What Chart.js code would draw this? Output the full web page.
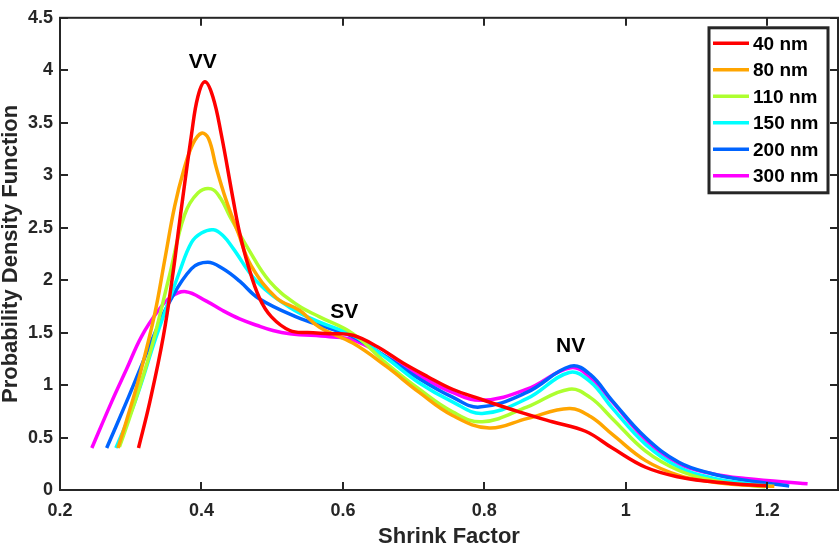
<!DOCTYPE html>
<html lang="en">
<head>
  <meta charset="UTF-8">
  <title>Shrink Factor PDF</title>
  <script src="https://cdn.jsdelivr.net/npm/chart.js@4.4.0/dist/chart.umd.min.js"></script>
  <style>
    html, body { margin: 0; padding: 0; background: #fff; }
    .chart-box { width: 840px; height: 548px; }
  </style>
</head>
<body>
  <div class="chart-box">
    <canvas id="pdfChart"></canvas>
  </div>
  <script>
    // particle sizes (legend)
    var sizeLabels = ['40 nm', '80 nm', '110 nm', '150 nm', '200 nm', '300 nm'];

    // shrink factor (x) and PDF (y), one pair per size
    var sf40  = [0.311, 0.327, 0.346, 0.360, 0.369, 0.386, 0.395, 0.405, 0.416, 0.428, 0.445, 0.454, 0.466, 0.482, 0.499, 0.525, 0.550, 0.581, 0.614, 0.650, 0.685, 0.720, 0.755, 0.793, 0.849, 0.896, 0.943, 0.981, 1.028, 1.075, 1.120, 1.160, 1.200];
    var pdf40 = [0.40, 0.84, 1.46, 2.08, 2.55, 3.39, 3.75, 3.89, 3.75, 3.39, 2.76, 2.45, 2.14, 1.83, 1.65, 1.52, 1.50, 1.49, 1.475, 1.36, 1.21, 1.08, 0.96, 0.87, 0.745, 0.65, 0.56, 0.40, 0.217, 0.124, 0.08, 0.055, 0.04];

    var sf80  = [0.282, 0.294, 0.313, 0.334, 0.348, 0.362, 0.375, 0.388, 0.400, 0.410, 0.421, 0.435, 0.452, 0.470, 0.506, 0.539, 0.567, 0.614, 0.661, 0.708, 0.755, 0.807, 0.860, 0.920, 0.950, 0.981, 1.028, 1.075, 1.122, 1.169, 1.210];
    var pdf80 = [0.40, 0.66, 1.10, 1.68, 2.19, 2.70, 3.05, 3.30, 3.40, 3.35, 3.07, 2.76, 2.45, 2.14, 1.83, 1.71, 1.55, 1.40, 1.18, 0.93, 0.71, 0.59, 0.68, 0.776, 0.70, 0.53, 0.28, 0.14, 0.077, 0.047, 0.035];

    var sf110  = [0.284, 0.299, 0.327, 0.355, 0.376, 0.395, 0.414, 0.427, 0.440, 0.466, 0.496, 0.534, 0.567, 0.614, 0.661, 0.708, 0.755, 0.797, 0.860, 0.920, 0.950, 0.981, 1.028, 1.075, 1.122, 1.169, 1.197];
    var pdf110 = [0.41, 0.70, 1.30, 2.05, 2.62, 2.83, 2.87, 2.78, 2.61, 2.30, 1.99, 1.77, 1.65, 1.49, 1.21, 0.96, 0.745, 0.65, 0.79, 0.96, 0.88, 0.68, 0.37, 0.186, 0.093, 0.047, 0.03];

    var sf150  = [0.279, 0.306, 0.336, 0.369, 0.386, 0.400, 0.417, 0.431, 0.445, 0.478, 0.525, 0.567, 0.614, 0.661, 0.708, 0.755, 0.797, 0.860, 0.920, 0.950, 0.981, 1.028, 1.075, 1.122, 1.169, 1.207];
    var pdf150 = [0.40, 0.84, 1.46, 2.08, 2.36, 2.45, 2.48, 2.42, 2.30, 1.99, 1.74, 1.60, 1.475, 1.26, 1.02, 0.84, 0.73, 0.87, 1.12, 1.03, 0.78, 0.435, 0.217, 0.115, 0.062, 0.037];

    var sf200  = [0.266, 0.294, 0.313, 0.332, 0.353, 0.386, 0.409, 0.430, 0.454, 0.480, 0.534, 0.581, 0.614, 0.661, 0.708, 0.755, 0.793, 0.860, 0.922, 0.950, 0.981, 1.028, 1.075, 1.122, 1.169, 1.231];
    var pdf200 = [0.40, 0.84, 1.15, 1.46, 1.77, 2.11, 2.17, 2.11, 1.99, 1.83, 1.65, 1.54, 1.46, 1.27, 1.06, 0.885, 0.79, 0.93, 1.18, 1.10, 0.85, 0.50, 0.264, 0.155, 0.093, 0.037];

    var sf300  = [0.245, 0.273, 0.294, 0.315, 0.339, 0.357, 0.378, 0.407, 0.430, 0.454, 0.478, 0.501, 0.525, 0.581, 0.614, 0.661, 0.708, 0.755, 0.797, 0.860, 0.922, 0.950, 0.981, 1.028, 1.075, 1.122, 1.169, 1.257];
    var pdf300 = [0.40, 0.84, 1.15, 1.46, 1.71, 1.84, 1.89, 1.80, 1.71, 1.63, 1.57, 1.52, 1.49, 1.46, 1.43, 1.27, 1.09, 0.93, 0.855, 0.96, 1.165, 1.07, 0.84, 0.48, 0.25, 0.155, 0.109, 0.059];

    // axis ticks
    var xTicks = [0.2, 0.4, 0.6, 0.8, 1, 1.2];
    var yTicks = [0, 0.5, 1, 1.5, 2, 2.5, 3, 3.5, 4, 4.5];

    // peak annotations (data coordinates)
    var peakNames = ['VV', 'SV', 'NV'];
    var peakX = [0.402, 0.602, 0.922];
    var peakY = [4.076, 1.693, 1.367];

    var lineColors = ['#ff0000', '#ffa500', '#adff2f', '#00ffff', '#0064ff', '#ff00ff'];
    var AXIS = '#262626';
    var FONT = '"Liberation Sans", Arial, Helvetica, sans-serif';

    function toPoints(xs, ys) {
      var pts = [];
      for (var i = 0; i < xs.length; i++) pts.push({ x: xs[i], y: ys[i] });
      return pts;
    }

    var seriesX = [sf40, sf80, sf110, sf150, sf200, sf300];
    var seriesY = [pdf40, pdf80, pdf110, pdf150, pdf200, pdf300];

    var datasets = sizeLabels.map(function (lbl, i) {
      return {
        label: lbl,
        data: toPoints(seriesX[i], seriesY[i]),
        borderColor: lineColors[i],
        backgroundColor: lineColors[i],
        borderWidth: 3.5,
        pointRadius: 0,
        fill: false,
        tension: 0.4
      };
    });

    // box, inward ticks, peak labels and legend
    var framePlugin = {
      id: 'frame',
      afterDatasetsDraw: function (chart) {
        var ctx = chart.ctx, a = chart.chartArea;
        var xs = chart.scales.x, ys = chart.scales.y;
        ctx.save();
        ctx.strokeStyle = AXIS;
        ctx.lineWidth = 2;
        ctx.beginPath();
        xTicks.forEach(function (v) {
          var px = Math.round(xs.getPixelForValue(v));
          ctx.moveTo(px, a.bottom); ctx.lineTo(px, a.bottom - 8);
          ctx.moveTo(px, a.top); ctx.lineTo(px, a.top + 8);
        });
        yTicks.forEach(function (v) {
          var py = Math.round(ys.getPixelForValue(v));
          ctx.moveTo(a.left, py); ctx.lineTo(a.left + 8, py);
          ctx.moveTo(a.right, py); ctx.lineTo(a.right - 8, py);
        });
        ctx.stroke();
        ctx.strokeRect(a.left, a.top, a.right - a.left, a.bottom - a.top);

        // VV / SV / NV
        ctx.fillStyle = '#000';
        ctx.font = 'bold 21px ' + FONT;
        ctx.textAlign = 'center';
        ctx.textBaseline = 'middle';
        peakNames.forEach(function (t, i) {
          ctx.fillText(t, xs.getPixelForValue(peakX[i]), ys.getPixelForValue(peakY[i]));
        });

        // legend box in the upper right corner
        var bx = a.right - 129, by = a.top + 10, bw = 119, bh = 165;
        ctx.fillStyle = '#fff';
        ctx.fillRect(bx, by, bw, bh);
        ctx.lineWidth = 3;
        ctx.strokeStyle = AXIS;
        ctx.strokeRect(bx, by, bw, bh);
        ctx.font = 'bold 19px ' + FONT;
        ctx.textAlign = 'left';
        chart.data.datasets.forEach(function (ds, i) {
          var ry = by + 15.5 + i * 26.5;
          ctx.strokeStyle = ds.borderColor;
          ctx.lineWidth = 3.5;
          ctx.beginPath();
          ctx.moveTo(bx + 4, ry); ctx.lineTo(bx + 40, ry);
          ctx.stroke();
          ctx.fillStyle = '#000';
          ctx.fillText(ds.label, bx + 44, ry + 1);
        });
        ctx.restore();
      }
    };

    var ctxPdf = document.getElementById('pdfChart').getContext('2d');
    var pdfChart = new Chart(ctxPdf, {
      type: 'line',
      data: { datasets: datasets },
      plugins: [framePlugin],
      options: {
        responsive: true,
        maintainAspectRatio: false,
        animation: false,
        events: [],
        layout: { padding: { top: 7, right: 2, left: 0, bottom: 0 } },
        plugins: { legend: { display: false }, tooltip: { enabled: false } },
        scales: {
          x: {
            type: 'linear',
            min: 0.2,
            max: 1.3,
            afterBuildTicks: function (s) { s.ticks = xTicks.map(function (v) { return { value: v }; }); },
            afterFit: function (s) { s.height = 58; },
            grid: { display: false, drawTicks: false },
            border: { display: false },
            ticks: {
              color: AXIS,
              padding: 10,
              maxRotation: 0,
              font: { family: FONT, size: 18, weight: 'bold' },
              callback: function (v) { return String(+v.toFixed(2)); }
            },
            title: {
              display: true,
              text: 'Shrink Factor',
              color: AXIS,
              padding: 0,
              font: { family: FONT, size: 22, weight: 'bold', lineHeight: 1 }
            }
          },
          y: {
            type: 'linear',
            min: 0,
            max: 4.5,
            afterBuildTicks: function (s) { s.ticks = yTicks.map(function (v) { return { value: v }; }); },
            afterFit: function (s) { s.width = 60; },
            grid: { display: false, drawTicks: false },
            border: { display: false },
            ticks: {
              color: AXIS,
              padding: 7,
              font: { family: FONT, size: 18, weight: 'bold' },
              callback: function (v) { return String(+v.toFixed(2)); }
            },
            title: {
              display: true,
              text: 'Probability Density Function',
              color: AXIS,
              padding: 0,
              font: { family: FONT, size: 22, weight: 'bold', lineHeight: 1 }
            }
          }
        }
      }
    });
  </script>
</body>
</html>
